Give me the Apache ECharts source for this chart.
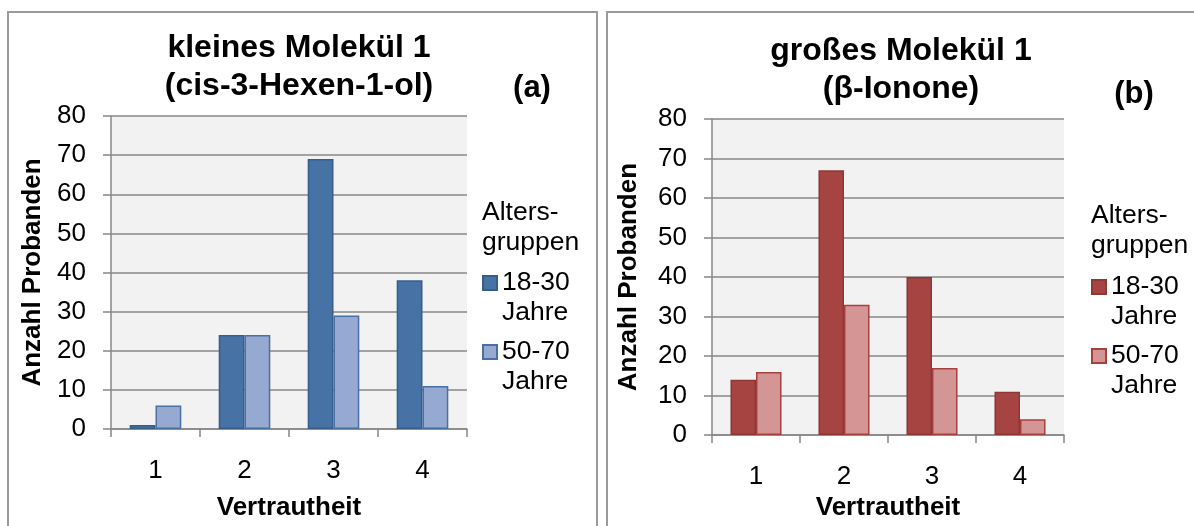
<!DOCTYPE html>
<html>
<head>
<meta charset="utf-8">
<script src="https://cdn.jsdelivr.net/npm/echarts@6/dist/echarts.min.js"></script>
<style>
  html, body { margin: 0; padding: 0; background: #fff; }
  #wrap { position: relative; width: 1194px; height: 526px; overflow: hidden; }
  .frame { position: absolute; border: 2px solid #9a9a9a; box-sizing: border-box; pointer-events: none; }
  .chart { position: absolute; top: 0; height: 526px; }
</style>
</head>
<body>
<div id="wrap">
  <div class="frame" style="left:7px;top:11px;width:591px;height:600px"></div>
  <div class="frame" style="left:606px;top:11px;width:700px;height:600px"></div>
  <div id="chartA" class="chart" style="left:0;width:600px"></div>
  <div id="chartB" class="chart" style="left:600px;width:594px"></div>
</div>
<script>
  // Vertrautheit 1..4
  var categories = ['1', '2', '3', '4'];
  var seriesNames = ['18-30 Jahre', '50-70 Jahre'];
  var yTicks = { min: 0, max: 80, interval: 10 };

  // kleines Molekül 1 (cis-3-Hexen-1-ol)
  var kleinJung = [1, 24, 69, 38];
  var kleinAlt = [6, 24, 29, 11];
  // großes Molekül 1 (β-Ionone)
  var grossJung = [14, 67, 40, 11];
  var grossAlt = [16, 33, 17, 4];

  var font = 'Liberation Sans, Arial, sans-serif';
  var gridColor = '#878787';

  function makeOption (cfg) {
    return {
      animation: false,
      textStyle: { fontFamily: font, color: '#000' },
      title: [
        {
          text: cfg.title, left: cfg.titleX, top: cfg.titleTop, textAlign: 'center', padding: 0,
          textStyle: { fontFamily: font, fontSize: 32, fontWeight: 'bold', lineHeight: 38, color: '#000' }
        },
        {
          text: cfg.tag, left: cfg.tagX, top: cfg.tagTop, textAlign: 'center', padding: 0,
          textStyle: { fontFamily: font, fontSize: 31, fontWeight: 'bold', color: '#000' }
        },
        {
          text: 'Alters-\ngruppen', left: cfg.legendX, top: cfg.legendTitleTop, padding: 0,
          textStyle: { fontFamily: font, fontSize: 26.5, fontWeight: 'normal', lineHeight: 30, color: '#000' }
        }
      ],
      legend: {
        orient: 'vertical',
        left: cfg.legendX,
        top: cfg.legendTop,
        padding: 0,
        icon: 'rect',
        itemWidth: 14,
        itemHeight: 14,
        itemGap: -21,
        data: seriesNames,
        // leere erste Zeile, damit die erste Textzeile neben dem Kästchen steht
        formatter: function (name) { return '\n' + name.replace(' ', '\n') },
        textStyle: { fontFamily: font, fontSize: 26.5, lineHeight: 30, color: '#000' }
      },
      grid: {
        left: cfg.grid[0], top: cfg.grid[1], width: cfg.grid[2], height: cfg.grid[3],
        show: true, backgroundColor: '#F2F2F2', borderWidth: 0
      },
      xAxis: {
        type: 'category',
        data: categories,
        name: 'Vertrautheit',
        nameLocation: 'middle',
        nameGap: cfg.xNameGap,
        nameTextStyle: { fontFamily: font, fontSize: 26, fontWeight: 'bold', color: '#000' },
        axisLine: { lineStyle: { color: gridColor, width: 1.5 } },
        axisTick: { show: true, length: 8, lineStyle: { color: gridColor, width: 1.5 } },
        axisLabel: { fontFamily: font, fontSize: 26, color: '#000', margin: 29 }
      },
      yAxis: {
        type: 'value',
        min: yTicks.min,
        max: yTicks.max,
        interval: yTicks.interval,
        name: 'Anzahl Probanden',
        nameLocation: 'middle',
        nameGap: cfg.yNameGap,
        nameTextStyle: { fontFamily: font, fontSize: 26, fontWeight: 'bold', color: '#000' },
        axisLine: { show: true, lineStyle: { color: gridColor, width: 1.5 } },
        axisTick: { show: true, length: 8, lineStyle: { color: gridColor, width: 1.5 } },
        axisLabel: { fontFamily: font, fontSize: 26, color: '#000', margin: 25 },
        splitLine: { lineStyle: { color: gridColor, width: 1.5 } }
      },
      series: [
        {
          name: seriesNames[0], type: 'bar', data: cfg.jung,
          barGap: '0%', barCategoryGap: '42%',
          itemStyle: { color: cfg.colors[0], borderColor: cfg.borders[0], borderWidth: 1.5 }
        },
        {
          name: seriesNames[1], type: 'bar', data: cfg.alt,
          barGap: '0%', barCategoryGap: '42%',
          itemStyle: { color: cfg.colors[1], borderColor: cfg.borders[1], borderWidth: 1.5 }
        }
      ]
    };
  }

  var chartA = echarts.init(document.getElementById('chartA'));
  chartA.setOption(makeOption({
    title: 'kleines Molekül 1\n(cis-3-Hexen-1-ol)', titleX: 299, titleTop: 29,
    tag: '(a)', tagX: 532, tagTop: 73,
    legendX: 482, legendTitleTop: 198, legendTop: 238,
    grid: [111, 116, 356, 316],
    xNameGap: 66, yNameGap: 65,
    jung: kleinJung, alt: kleinAlt,
    colors: ['#4672A6', '#95A9D1'],
    borders: ['#385D8A', '#4A6FA5']
  }));

  var chartB = echarts.init(document.getElementById('chartB'));
  chartB.setOption(makeOption({
    title: 'großes Molekül 1\n(β-Ionone)', titleX: 301, titleTop: 32,
    tag: '(b)', tagX: 534, tagTop: 79,
    legendX: 491, legendTitleTop: 201, legendTop: 242,
    grid: [112, 119, 352, 317],
    xNameGap: 55, yNameGap: 70,
    jung: grossJung, alt: grossAlt,
    colors: ['#A64442', '#D49695'],
    borders: ['#8C3836', '#A8403E']
  }));
</script>
</body>
</html>
